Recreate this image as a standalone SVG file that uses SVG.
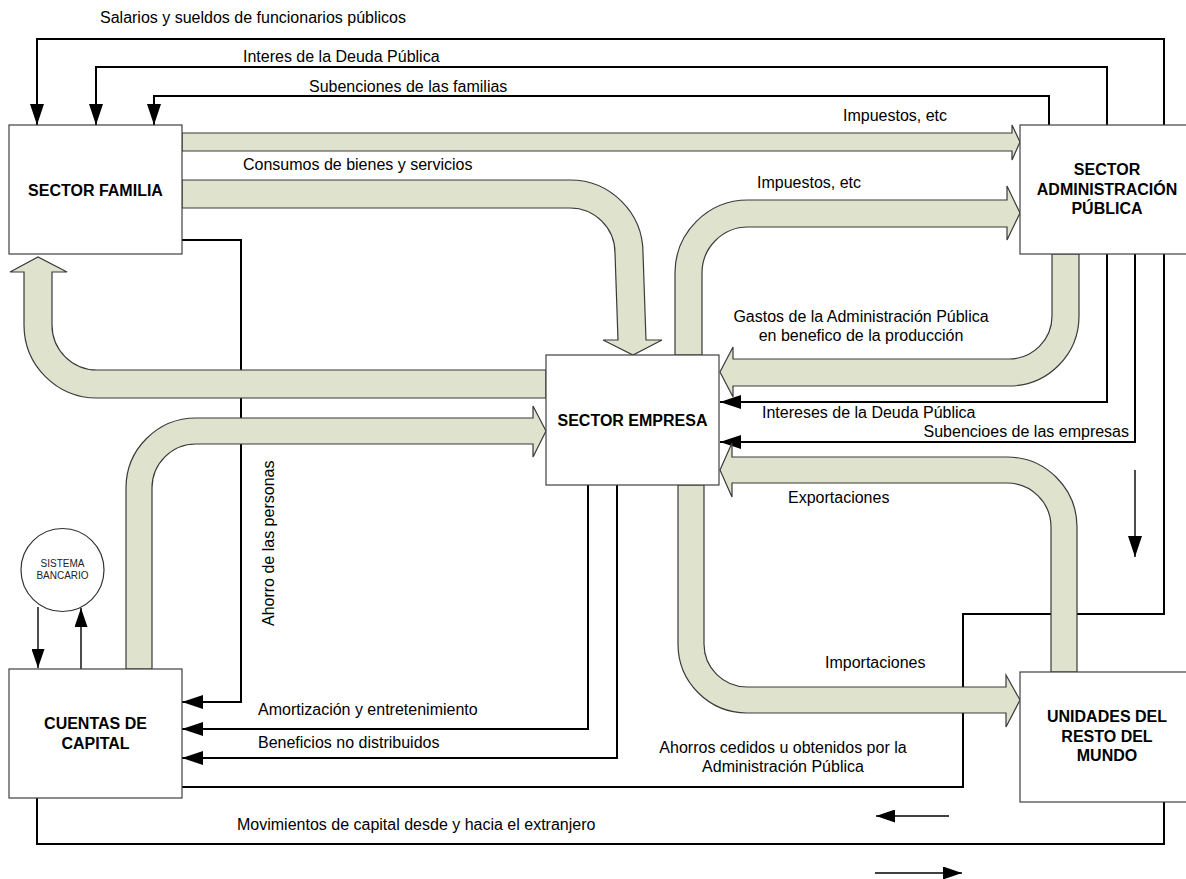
<svg xmlns="http://www.w3.org/2000/svg" width="1186" height="879" viewBox="0 0 1186 879">
<defs>
<style>
.t{font-family:"Liberation Sans",Arial,sans-serif;font-size:16px;fill:#000}
.b{font-family:"Liberation Sans",Arial,sans-serif;font-size:16px;font-weight:bold;fill:#000;text-anchor:middle}
.s{font-family:"Liberation Sans",Arial,sans-serif;font-size:10px;fill:#222;text-anchor:middle}
.ln{fill:none;stroke:#000;stroke-width:2}
.lt{fill:none;stroke:#000;stroke-width:1.4}
.band{fill:#DFE3CE;stroke:#3a3a3a;stroke-width:1.2;stroke-linejoin:miter}
.box{fill:#fff;stroke:#404040;stroke-width:1.2}
.arr{marker-end:url(#ah)}
.arrs{marker-end:url(#ahs)}
</style>
<marker id="ah" viewBox="0 0 21 14" refX="21" refY="7" markerWidth="21" markerHeight="14" markerUnits="userSpaceOnUse" orient="auto"><path d="M0,0 L21,7 L0,14 Z" fill="#000"/></marker>
<marker id="ahs" viewBox="0 0 19 13" refX="19" refY="6.5" markerWidth="19" markerHeight="13" markerUnits="userSpaceOnUse" orient="auto"><path d="M0,0 L19,6.5 L0,13 Z" fill="#000"/></marker>
</defs>
<rect width="1186" height="879" fill="#fff"/>
<g id="connectors">
<path class="ln arr" d="M1164,125 V39 H37 V125"/>
<path class="ln arr" d="M1107,125 V67 H96 V125"/>
<path class="ln arr" d="M1049,125 V96 H154 V125"/>
<path class="ln arr" d="M182,240 H241 V702 H182"/>
<path class="ln arr" d="M588,485 V729 H182"/>
<path class="ln arr" d="M617,485 V758 H182"/>
<path class="ln" d="M182,787 H963 V614 H1164 V254"/>
<path class="ln" d="M37,798 V844 H1164 V802"/>
<path class="ln arr" d="M1107,254 V402 H720"/>
<path class="ln arr" d="M1135,254 V442 H720"/>
<path class="lt arr" d="M1135,470 V557"/>
<path class="lt arrs" d="M949,816 H876"/>
<path class="lt arrs" d="M875,873 H962"/>
<path class="lt arrs" d="M38,607 V668"/>
<path class="lt arrs" d="M81,669 V608"/>
<path class="band" d="M182,133 H1012 V125 L1020,142 L1012,160 V151 H182 Z"/>
<path class="band" d="M182,180 H570 A73,73 0 0 1 643,253 L646,340 H662 L633,355 L603,340 H618 L615,253 A45,45 0 0 0 570,208 H182 Z"/>
<path class="band" d="M675,355 V273 A73,73 0 0 1 748,200 H1007 V186 L1020,213 L1007,240 V227 H748 A46,46 0 0 0 702,273 V355 Z"/>
<path class="band" d="M546,370 H97 A45,45 0 0 1 52,325 V272 H67 L38,257 L10,272 H24 V325 A73,73 0 0 0 97,398 H546 Z"/>
<path class="band" d="M126,669 V488 A70,70 0 0 1 196,418 H533 V406 L546,431 L533,457 V444 H196 A44,44 0 0 0 152,488 V669 Z"/>
<path class="band" d="M1052,254 V316 A43,43 0 0 1 1009,359 H733 V347 L720,372 L733,397 V386 H1009 A70,70 0 0 0 1079,316 V254 Z"/>
<path class="band" d="M1051,672 V527 A44,44 0 0 0 1007,483 H732 V497 L720,470 L732,443 V457 H1007 A70,70 0 0 1 1077,527 V672 Z"/>
<path class="band" d="M678,485 V644 A69,69 0 0 0 747,713 H1006 V727 L1020,700 L1006,675 V687 H747 A43,43 0 0 1 704,644 V485 Z"/>
</g>
<g id="labels">
<text class="t" x="100" y="23">Salarios y sueldos de funcionarios públicos</text>
<text class="t" x="243" y="62">Interes de la Deuda Pública</text>
<text class="t" x="309" y="92">Subenciones de las familias</text>
<text class="t" x="843" y="121">Impuestos, etc</text>
<text class="t" x="243" y="170">Consumos de bienes y servicios</text>
<text class="t" x="757" y="188">Impuestos, etc</text>
<text class="t" x="861" y="322" text-anchor="middle">Gastos de la Administración Pública</text>
<text class="t" x="861" y="341" text-anchor="middle">en benefico de la producción</text>
<text class="t" x="762" y="418">Intereses de la Deuda Pública</text>
<text class="t" x="1129" y="437" text-anchor="end">Subencioes de las empresas</text>
<text class="t" x="788" y="503">Exportaciones</text>
<text class="t" x="825" y="668">Importaciones</text>
<text class="t" x="274" y="626" transform="rotate(-90 274 626)">Ahorro de las personas</text>
<text class="t" x="258" y="715">Amortización y entretenimiento</text>
<text class="t" x="258" y="748">Beneficios no distribuidos</text>
<text class="t" x="783" y="753" text-anchor="middle">Ahorros cedidos u obtenidos por la</text>
<text class="t" x="783" y="772" text-anchor="middle">Administración Pública</text>
<text class="t" x="237" y="830">Movimientos de capital desde y hacia el extranjero</text>
</g>
<g id="sector-familia">
<rect class="box" x="9" y="125" width="173" height="129"/>
<text class="b" x="95.5" y="196">SECTOR FAMILIA</text>
</g>
<g id="sector-administracion-publica">
<rect class="box" x="1020" y="125" width="174" height="129"/>
<text class="b" x="1107" y="175">SECTOR</text>
<text class="b" x="1107" y="195">ADMINISTRACIÓN</text>
<text class="b" x="1107" y="214">PÚBLICA</text>
</g>
<g id="sector-empresa">
<rect class="box" x="546" y="355" width="173" height="130"/>
<text class="b" x="632.5" y="426">SECTOR EMPRESA</text>
</g>
<g id="sistema-bancario">
<circle cx="62.5" cy="570" r="41.5" fill="#fff" stroke="#333" stroke-width="1.2"/>
<text class="s" x="62.5" y="567">SISTEMA</text>
<text class="s" x="62.5" y="579">BANCARIO</text>
</g>
<g id="cuentas-de-capital">
<rect class="box" x="9" y="669" width="173" height="129"/>
<text class="b" x="95.5" y="729">CUENTAS DE</text>
<text class="b" x="95.5" y="749">CAPITAL</text>
</g>
<g id="unidades-resto-mundo">
<rect class="box" x="1020" y="672" width="174" height="130"/>
<text class="b" x="1107" y="722">UNIDADES DEL</text>
<text class="b" x="1107" y="742">RESTO DEL</text>
<text class="b" x="1107" y="761">MUNDO</text>
</g>
</svg>
